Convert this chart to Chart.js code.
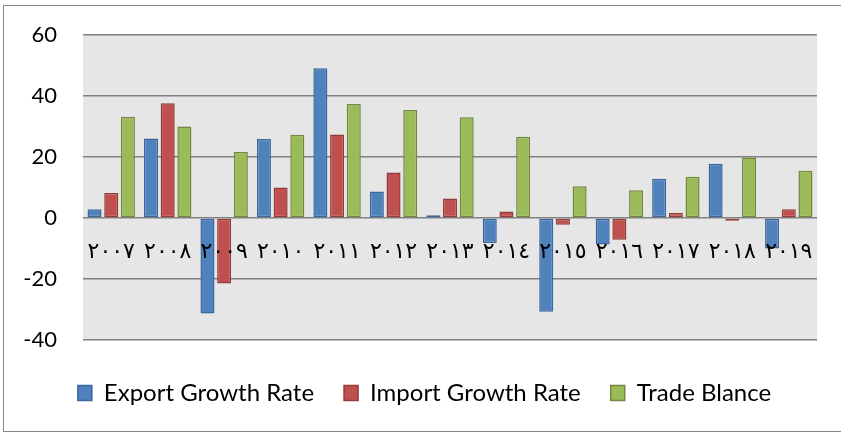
<!DOCTYPE html>
<html>
<head>
<meta charset="utf-8">
<script src="https://cdn.jsdelivr.net/npm/chart.js@4/dist/chart.umd.min.js"></script>
<style>
  html, body { margin: 0; padding: 0; background: #fff; }
  #wrap { position: relative; width: 841px; height: 434px; overflow: hidden; }
  #frame { position: absolute; left: 3px; top: 5px; width: 860px; height: 427px; border: 1px solid #8a8a8a; box-sizing: border-box; pointer-events: none; }
  canvas { position: absolute; left: 0; top: 0; }
</style>
</head>
<body>
<div id="wrap">
  <canvas id="c" width="841" height="434"></canvas>
  <div id="frame"></div>
</div>
<script>
const categories = ['٢٠٠٧','٢٠٠٨','٢٠٠٩','٢٠١٠','٢٠١١','٢٠١٢','٢٠١٣','٢٠١٤','٢٠١٥','٢٠١٦','٢٠١٧','٢٠١٨','٢٠١٩'];
const exportGrowth = [2.9, 26.1, -31.3, 25.9, 49.1, 8.7, 0.9, -8.2, -30.7, -8.7, 12.9, 17.8, -10.0];
const importGrowth = [8.2, 37.6, -21.5, 10.0, 27.4, 14.9, 6.4, 2.1, -2.2, -7.1, 1.6, -0.9, 2.9];
const tradeBalance = [33.2, 30.0, 21.6, 27.3, 37.4, 35.4, 33.0, 26.6, 10.4, 9.1, 13.5, 19.8, 15.5];
const seriesNames = ['Export Growth Rate', 'Import Growth Rate', 'Trade Blance'];
const yTicks = [-40, -20, 0, 20, 40, 60];

const plotBg = {
  id: 'plotBg',
  beforeDraw(chart) {
    const {ctx, chartArea: a} = chart;
    ctx.save();
    ctx.fillStyle = '#e6e6e6';
    ctx.fillRect(a.left, a.top, a.right - a.left, a.bottom - a.top);
    ctx.restore();
  }
};

const legendShift = {
  id: 'legendShift',
  afterLayout(chart) {
    const l = chart.legend;
    const DX = 16, DY = 11;
    l.left += DX; l.right += DX; l.top += DY; l.bottom += DY;
  }
};

new Chart(document.getElementById('c'), {
  type: 'bar',
  data: {
    labels: categories,
    datasets: [
      { label: seriesNames[0], data: exportGrowth, backgroundColor: '#4f81bd', borderColor: '#3b679c', borderWidth: 1.5, borderSkipped: false },
      { label: seriesNames[1], data: importGrowth, backgroundColor: '#c0504d', borderColor: '#943c39', borderWidth: 1.5, borderSkipped: false },
      { label: seriesNames[2], data: tradeBalance, backgroundColor: '#9bbb59', borderColor: '#71893f', borderWidth: 1.5, borderSkipped: false }
    ]
  },
  options: {
    responsive: false,
    animation: false,
    devicePixelRatio: 1,
    categoryPercentage: 0.887,
    barPercentage: 0.84,
    layout: { padding: { left: 0, right: 24, top: 35, bottom: 30 } },
    plugins: {
      tooltip: { enabled: false },
      legend: {
        position: 'bottom',
        labels: {
          font: { family: 'Lato', size: 24 },
          color: '#000',
          boxWidth: 14,
          boxHeight: 15,
          padding: 30
        }
      }
    },
    scales: {
      x: {
        position: { y: 0 },
        grid: { display: false, drawTicks: false },
        border: { display: false },
        ticks: {
          autoSkip: false, maxRotation: 0, minRotation: 0,
          padding: 21,
          z: 1,
          color: '#000',
          font: { family: 'DejaVu Sans', size: 22 }
        }
      },
      y: {
        min: -40, max: 60,
        afterBuildTicks(s) { s.ticks = yTicks.map(v => ({ value: v })); },
        afterFit(s) { s.width = 83; },
        grid: { color: '#808080', lineWidth: 1.4, drawTicks: true, tickLength: 26, tickColor: 'rgba(0,0,0,0)' },
        border: { display: false },
        ticks: {
          padding: 0,
          color: '#000',
          font: { family: 'Lato', size: 22 }
        }
      }
    }
  },
  plugins: [plotBg, legendShift]
});
</script>
</body>
</html>
